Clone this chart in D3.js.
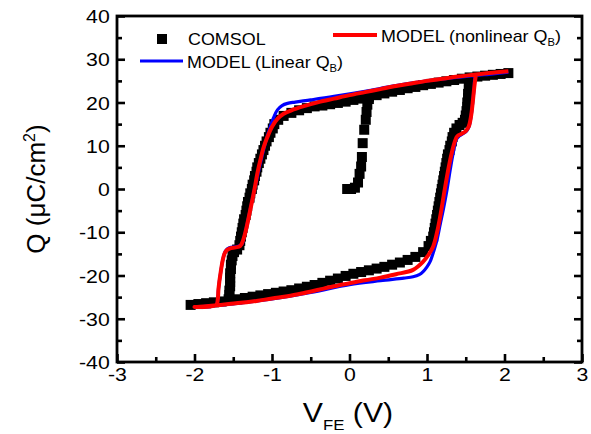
<!DOCTYPE html>
<html>
<head>
<meta charset="utf-8">
<title>Q-V loop</title>
<script src="https://d3js.org/d3.v7.min.js"></script>
<style>
body { margin: 0; background: #fff; }
text { font-family: "Liberation Sans", Arial, sans-serif; fill: #000; }
</style>
</head>
<body>
<div id="chart"></div>
<script>
// COMSOL points [V_FE, Q]
var comsolInit = [[-0.03,0],[0.02,0],[0.07,0.3],[0.11,1.5],[0.13,3.5],[0.15,5.2],[0.16,7.4],[0.17,10.6],[0.19,13.7],[0.21,16],[0.22,17.8],[0.23,19.5],[0.25,20.8]];
var comsolUpper = [[2.05,26.8],[1.95,26.6],[1.85,26.4],[1.75,26.2],[1.65,26.0],[1.55,25.8],[1.45,25.5],[1.35,25.2],[1.25,24.9],[1.15,24.6],[1.05,24.3],[0.95,24.0],[0.85,23.6],[0.75,23.3],[0.65,22.9],[0.55,22.5],[0.45,22.1],[0.35,21.7],[0.25,21.3],[0.15,20.9],[0.05,20.6],[-0.05,20.2],[-0.15,19.9],[-0.25,19.6],[-0.35,19.3],[-0.45,19.1],[-0.55,18.7],[-0.65,18.2],[-0.75,17.6],[-0.85,16.9],[-0.92,16.0]];
var comsolDrop = [[-0.97,15],[-0.99,14],[-1.02,13],[-1.04,12],[-1.07,11],[-1.09,10],[-1.11,9],[-1.13,8],[-1.15,7],[-1.17,6],[-1.19,5],[-1.2,4],[-1.22,3],[-1.23,2],[-1.25,1],[-1.26,0],[-1.28,-1],[-1.29,-2],[-1.31,-3],[-1.32,-4],[-1.33,-5],[-1.34,-6],[-1.36,-7],[-1.37,-8],[-1.38,-9],[-1.39,-10],[-1.4,-11],[-1.41,-12],[-1.42,-13],[-1.45,-14],[-1.49,-14.6],[-1.51,-15.5],[-1.52,-16.5],[-1.53,-17.5],[-1.53,-18.5],[-1.54,-19.5],[-1.54,-20.5],[-1.54,-21.5],[-1.54,-22.5],[-1.55,-23.5],[-1.55,-24.5],[-1.56,-25.5]];
var comsolLower = [[-2.05,-26.8],[-1.95,-26.6],[-1.85,-26.4],[-1.75,-26.2],[-1.65,-26.0],[-1.55,-25.7],[-1.45,-25.5],[-1.35,-25.2],[-1.25,-24.9],[-1.15,-24.6],[-1.05,-24.3],[-0.95,-24.0],[-0.85,-23.7],[-0.75,-23.4],[-0.65,-23.0],[-0.55,-22.6],[-0.45,-22.2],[-0.35,-21.7],[-0.25,-21.2],[-0.15,-20.7],[-0.05,-20.1],[0.05,-19.6],[0.15,-19.2],[0.25,-18.8],[0.35,-18.4],[0.45,-18.0],[0.55,-17.5],[0.65,-17.0],[0.75,-16.4],[0.85,-15.7],[0.95,-14.6],[1.02,-13.2]];
var comsolRise = [[1.05,-12],[1.08,-11],[1.09,-10],[1.1,-9],[1.11,-8],[1.12,-7],[1.13,-6],[1.14,-5],[1.15,-4],[1.16,-3],[1.17,-2],[1.18,-1],[1.19,0],[1.2,1],[1.21,2],[1.22,3],[1.23,4],[1.24,5],[1.25,6],[1.26,7],[1.27,8],[1.29,9],[1.3,10],[1.32,11],[1.33,12],[1.35,13],[1.38,14],[1.42,14.8],[1.46,15.3],[1.49,16],[1.5,17],[1.51,18],[1.52,19],[1.52,20],[1.53,21],[1.53,22],[1.54,23],[1.54,24],[1.55,25]];

// model curves [V_FE, Q]
var modelLinear = [[2.05,27.0],[1.6,26.2],[1.0,25.0],[0.6,23.9],[0.2,22.6],[-0.2,21.4],[-0.5,20.6],[-0.7,20.1],[-0.8,19.8],[-0.87,19.3],[-0.93,18.3],[-0.98,16.5],[-1.03,14],[-1.08,11],[-1.13,7.5],[-1.18,3.5],[-1.23,-0.5],[-1.29,-5.5],[-1.35,-10.5],[-1.39,-12.8],[-1.45,-13.3],[-1.55,-13.6],[-1.6,-14.3],[-1.63,-16],[-1.66,-19],[-1.69,-23],[-1.7,-25.6],[-1.72,-26.8],[-2.0,-27.3],
  [-1.7,-26.9],[-1.0,-25.4],[-0.5,-23.9],[0,-22.1],[0.4,-21.2],[0.7,-20.6],[0.82,-20.3],[0.9,-19.8],[0.95,-19.1],[1.0,-18.0],[1.04,-16.8],[1.09,-14.2],[1.13,-11.7],[1.17,-8.2],[1.21,-4.8],[1.26,0],[1.3,4.5],[1.34,8.5],[1.38,11.5],[1.42,12.3],[1.5,13.2],[1.54,14.3],[1.57,17],[1.59,20],[1.61,23.5],[1.63,26.1],[1.8,26.5],[2.05,27.0]];
var modelNonlinear = [[2.05,27.2],[1.8,26.8],[1.6,26.4],[1.4,26.0],[1.2,25.5],[1.0,25.0],[0.8,24.4],[0.6,23.8],[0.4,23.1],[0.2,22.4],[0,21.7],[-0.2,20.9],[-0.4,20.1],[-0.6,19.1],[-0.75,18.2],[-0.85,17.4],[-0.93,16.2],[-1.0,14.4],[-1.06,12],[-1.11,9.5],[-1.15,6.7],[-1.19,3.5],[-1.22,0.5],[-1.28,-4.8],[-1.33,-9],[-1.37,-11.7],[-1.41,-13.2],[-1.47,-13.5],[-1.55,-13.8],[-1.6,-14.5],[-1.63,-16],[-1.66,-19],[-1.69,-23],[-1.7,-25.6],[-1.72,-26.8],[-2.0,-27.3],
  [-1.7,-26.9],[-1.4,-26.3],[-1.2,-25.9],[-1.0,-25.3],[-0.8,-24.8],[-0.6,-24.1],[-0.4,-23.3],[-0.2,-22.5],[0,-21.8],[0.2,-21.1],[0.4,-20.5],[0.6,-19.7],[0.82,-18.7],[0.95,-16.8],[1.02,-15.2],[1.08,-13.3],[1.13,-10],[1.17,-6.4],[1.23,0],[1.28,5],[1.32,8.4],[1.36,11],[1.39,12.2],[1.45,12.8],[1.5,13.4],[1.54,14.5],[1.57,17],[1.59,20],[1.61,23.5],[1.63,26.3]];

var xTicks = [-3, -2, -1, 0, 1, 2, 3];
var xMinor = [-2.5, -1.5, -0.5, 0.5, 1.5, 2.5];
var yTicks = [-40, -30, -20, -10, 0, 10, 20, 30, 40];
var yMinor = [-35, -25, -15, -5, 5, 15, 25, 35];

var width = 591, height = 434;
var sx = 1.12; // the original picture is a little stretched sideways

var svg = d3.select("#chart").append("svg")
    .attr("width", width)
    .attr("height", height);

var x = d3.scaleLinear().domain([-3, 3]).range([117, 582]);
var y = d3.scaleLinear().domain([-40, 40]).range([362, 16]);

// COMSOL squares
var comsol = comsolInit.concat(comsolUpper, comsolDrop, comsolLower, comsolRise);
svg.selectAll("rect.pt")
    .data(comsol)
    .enter()
    .append("rect")
    .attr("class", "pt")
    .attr("x", d => x(d[0]) - 5)
    .attr("y", d => y(d[1]) - 5)
    .attr("width", 10)
    .attr("height", 10)
    .attr("fill", "#000");

var line = d3.line()
    .x(d => x(d[0]))
    .y(d => y(d[1]))
    .curve(d3.curveCatmullRom.alpha(0.5));

svg.append("path")
    .attr("d", line(modelLinear))
    .attr("fill", "none")
    .attr("stroke", "#0000ff")
    .attr("stroke-width", 3.2)
    .attr("stroke-linejoin", "round");

svg.append("path")
    .attr("d", line(modelNonlinear))
    .attr("fill", "none")
    .attr("stroke", "#ff0000")
    .attr("stroke-width", 4)
    .attr("stroke-linejoin", "round");

// axes, ticks pointing inward
function styleTicks(g) {
    g.select(".domain").remove();
    g.selectAll("line").attr("stroke", "#000").attr("stroke-width", 2.6);
}

svg.append("g")
    .attr("transform", "translate(0,362)")
    .call(d3.axisBottom(x).tickValues(xMinor).tickSize(-5).tickFormat(""))
    .call(styleTicks);
var xg = svg.append("g")
    .attr("transform", "translate(0,362)")
    .call(d3.axisBottom(x).tickValues(xTicks).tickSize(-8).tickFormat(d => String(d)))
    .call(styleTicks);
xg.selectAll("text")
    .attr("y", 19).attr("dy", 0)
    .attr("font-size", 19)
    .attr("font-family", null)
    .attr("transform", "scale(" + sx + ",1)");

svg.append("g")
    .attr("transform", "translate(117,0)")
    .call(d3.axisLeft(y).tickValues(yMinor).tickSize(-5).tickFormat(""))
    .call(styleTicks);
var yg = svg.append("g")
    .attr("transform", "translate(117,0)")
    .call(d3.axisLeft(y).tickValues(yTicks).tickSize(-8).tickFormat(d => String(d)))
    .call(styleTicks);
yg.selectAll("text")
    .attr("x", -6.5).attr("dy", "0.35em")
    .attr("font-size", 19)
    .attr("font-family", null)
    .attr("transform", "scale(" + sx + ",1)");

svg.append("g")
    .attr("transform", "translate(582,0)")
    .call(d3.axisRight(y).tickValues(yMinor).tickSize(-5).tickFormat(""))
    .call(styleTicks);
svg.append("g")
    .attr("transform", "translate(582,0)")
    .call(d3.axisRight(y).tickValues(yTicks).tickSize(-8).tickFormat(""))
    .call(styleTicks);

// frame
svg.append("rect")
    .attr("x", 117).attr("y", 16)
    .attr("width", 465).attr("height", 346)
    .attr("fill", "none")
    .attr("stroke", "#000")
    .attr("stroke-width", 2.8);

// axis titles
var xt = svg.append("text")
    .attr("transform", "translate(348,422) scale(" + sx + ",1)")
    .attr("text-anchor", "middle")
    .attr("font-size", 27);
xt.append("tspan").text("V");
xt.append("tspan").attr("font-size", 15).attr("dy", 8).text("FE");
xt.append("tspan").attr("dy", -8).text(" (V)");

var yt = svg.append("text")
    .attr("transform", "translate(45,189) rotate(-90)")
    .attr("text-anchor", "middle")
    .attr("font-size", 26);
yt.append("tspan").text("Q (\u03bcC/cm");
yt.append("tspan").attr("font-size", 16).attr("dy", -10).text("2");
yt.append("tspan").attr("dy", 10).text(")");

// legend
svg.append("rect")
    .attr("x", 157).attr("y", 34)
    .attr("width", 10).attr("height", 10)
    .attr("fill", "#000");
svg.append("text")
    .attr("transform", "translate(188,45) scale(" + sx + ",1)")
    .attr("font-size", 16)
    .text("COMSOL");

svg.append("line")
    .attr("x1", 333).attr("x2", 377).attr("y1", 35).attr("y2", 35)
    .attr("stroke", "#ff0000").attr("stroke-width", 4);
var l1 = svg.append("text")
    .attr("transform", "translate(381,42) scale(" + sx + ",1)")
    .attr("font-size", 16);
l1.append("tspan").text("MODEL (nonlinear Q");
l1.append("tspan").attr("font-size", 10).attr("dy", 4).text("B");
l1.append("tspan").attr("dy", -4).text(")");

svg.append("line")
    .attr("x1", 140).attr("x2", 183).attr("y1", 61).attr("y2", 61)
    .attr("stroke", "#0000ff").attr("stroke-width", 3.2);
var l2 = svg.append("text")
    .attr("transform", "translate(187,68) scale(" + sx + ",1)")
    .attr("font-size", 16);
l2.append("tspan").text("MODEL (Linear Q");
l2.append("tspan").attr("font-size", 10).attr("dy", 4).text("B");
l2.append("tspan").attr("dy", -4).text(")");
</script>
</body>
</html>
